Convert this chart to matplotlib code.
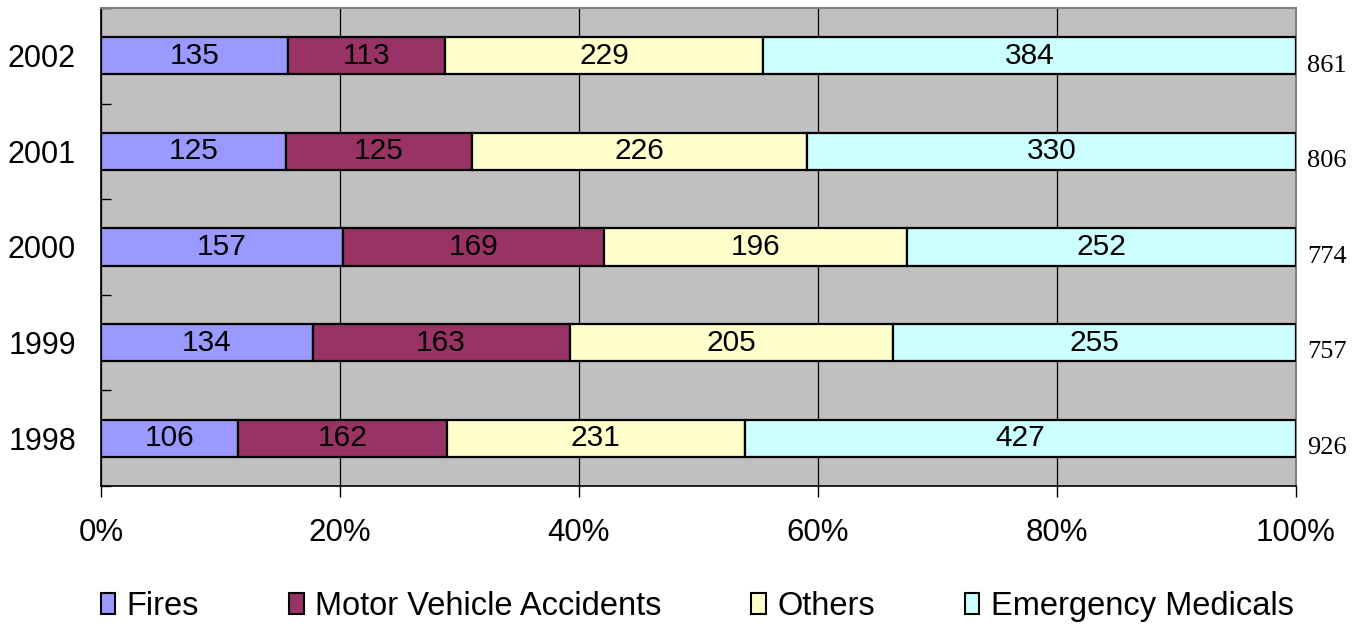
import numpy as np
import matplotlib.pyplot as plt
from matplotlib.patches import Patch
from matplotlib.ticker import PercentFormatter, FixedLocator

# Data (bottom row first)
years = ['1998', '1999', '2000', '2001', '2002']
fires = [106, 134, 157, 125, 135]
motor = [162, 163, 169, 125, 113]
others = [231, 205, 196, 226, 229]
medical = [427, 255, 252, 330, 384]

series_names = ['Fires', 'Motor Vehicle Accidents', 'Others', 'Emergency Medicals']
colors = ['#9999FF', '#993366', '#FFFFCC', '#CCFFFF']

plt.rcParams['font.family'] = ['Liberation Sans', 'DejaVu Sans']

series = np.array([fires, motor, others, medical], dtype=float)
totals = series.sum(axis=0)
shares = series / totals * 100

fig = plt.figure(figsize=(13.59, 6.24), dpi=100)
ax = fig.add_axes([0.0743, 0.2212, 0.8793, 0.7660])
ax.set_facecolor('#C0C0C0')

y = np.arange(len(years))
left = np.zeros(len(years))
for i, name in enumerate(series_names):
    ax.barh(y, shares[i], left=left, height=0.39, color=colors[i],
            edgecolor='black', linewidth=1.6, label=name, zorder=3)
    for j in range(len(years)):
        ax.text(left[j] + shares[i][j] / 2, y[j], f'{int(series[i][j])}',
                ha='center', va='center', fontsize=21.5, zorder=4)
    left += shares[i]

# totals at the right side
for j in range(len(years)):
    ax.annotate(f'{int(totals[j])}', xy=(100, y[j]), xytext=(8, -7),
                textcoords='offset points', ha='left', va='center',
                fontsize=19, family='Liberation Serif', annotation_clip=False)

ax.set_xlim(0, 100)
ax.set_ylim(-0.5, len(years) - 0.5)
ax.set_xticks([0, 20, 40, 60, 80, 100])
ax.xaxis.set_major_formatter(PercentFormatter(decimals=0))
ax.tick_params(axis='x', direction='out', length=8, width=1, labelsize=22.5, pad=15)
ax.set_yticks(y)
ax.set_yticklabels(years)
ax.tick_params(axis='y', which='major', length=0, labelsize=22, pad=18)
ax.yaxis.set_minor_locator(FixedLocator(np.arange(-0.5, len(years), 1.0)))
ax.tick_params(axis='y', which='minor', direction='in', length=7, width=1)

ax.grid(axis='x', color='black', linewidth=0.9, zorder=1)
ax.set_axisbelow(True)
for s in ['top', 'right']:
    ax.spines[s].set_color('#808080')
    ax.spines[s].set_linewidth(1.5)
for s in ['left', 'bottom']:
    ax.spines[s].set_color('black')
    ax.spines[s].set_linewidth(1.2)

handles = [Patch(facecolor=c, edgecolor='black', linewidth=1.5) for c in colors]
fig.legend(handles, series_names, loc='center', bbox_to_anchor=(0.513, 0.028),
           ncol=4, frameon=False, fontsize=23.5, handlelength=0.45, handleheight=0.6,
           handletextpad=0.35, columnspacing=2.75)

fig.savefig('out.png', dpi=100)
